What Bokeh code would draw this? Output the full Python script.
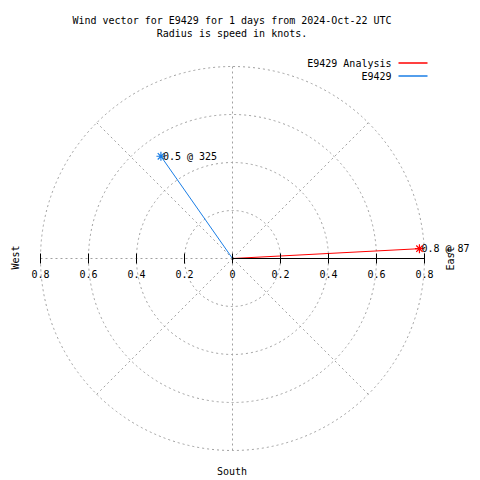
import numpy as np
from bokeh.plotting import figure
from bokeh.models import Range1d
from bokeh.embed import file_html
from bokeh.resources import INLINE
from bokeh.core.properties import value

# ---------------- data ----------------
title_lines = ["Wind vector for E9429 for 1 days from 2024-Oct-22 UTC",
               "Radius is speed in knots."]
series_names = ["E9429 Analysis", "E9429"]
series_colors = ["#ff0000", "#1a7ee6"]
speeds = [0.78, 0.52]          # knots
directions = [87, 325]         # degrees, clockwise from north
value_labels = ["0.8 @ 87", "0.5 @ 325"]
ring_radii = [0.2, 0.4, 0.6, 0.8]
spoke_angles = [0, 45, 90, 135, 180, 225, 270, 315]
tick_values = [-0.8, -0.6, -0.4, -0.2, 0.0, 0.2, 0.4, 0.6, 0.8]
tick_labels = ["0.8", "0.6", "0.4", "0.2", "0", "0.2", "0.4", "0.6", "0.8"]
compass_labels = ["West", "East", "South"]

# ---------------- geometry helpers ----------------
PX = 240.0             # pixels per knot
CX, CY = 232.0, 258.0  # centre in page pixels
W = H = 480


def X(px):
    return (px - CX) / PX


def Y(py):
    return (CY - py) / PX


FONT = value("DejaVu Sans Mono")
FS = "10px"
GRID = "#a0a0a0"

p = figure(width=W, height=H, output_backend="svg", toolbar_location=None,
           x_range=Range1d(X(0), X(W)), y_range=Range1d(Y(H), Y(0)),
           x_axis_type=None, y_axis_type=None, min_border=0, title=None)
p.outline_line_color = None
p.grid.visible = False
p.background_fill_color = "white"
p.border_fill_color = "white"

# rings
for r in ring_radii:
    p.circle(x=0, y=0, radius=r, fill_color=None, line_color=GRID,
             line_width=1, line_dash="2 3")

# spokes
ang = np.radians(spoke_angles)
rmax = max(ring_radii)
p.segment(x0=[0] * len(ang), y0=[0] * len(ang), x1=list(rmax * np.sin(ang)),
          y1=list(rmax * np.cos(ang)), line_color=GRID, line_width=1, line_dash="2 3")

# wind vectors
for s, d, c, lab in zip(speeds, directions, series_colors, value_labels):
    a = np.radians(d)
    ex, ey = s * np.sin(a), s * np.cos(a)
    p.line([0, ex], [0, ey], line_color=c, line_width=1)
    p.scatter([ex], [ey], marker="asterisk", size=9, line_color=c, line_width=1.2)
    p.text([ex + 2 / PX], [ey], text=[lab], text_font=FONT, text_font_size=FS,
           text_align="left", text_baseline="middle", text_color="black")

# axis (east half solid black)
p.line([0, rmax], [0, 0], line_color="black", line_width=1)
tl = 5 / PX
p.segment(x0=tick_values, y0=[-tl] * len(tick_values), x1=tick_values,
          y1=[tl] * len(tick_values), line_color="black", line_width=1)
p.text(tick_values, [Y(273)] * len(tick_values), text=tick_labels, text_font=FONT,
       text_font_size=FS, text_align="center", text_baseline="middle", text_color="black")

# compass labels
p.text([X(14.5), X(450)], [Y(257), Y(258)], text=compass_labels[:2], angle=np.pi / 2,
       text_font=FONT, text_font_size=FS, text_align="center", text_baseline="middle",
       text_color="black")
p.text([X(231.5)], [Y(471)], text=[compass_labels[2]], text_font=FONT, text_font_size=FS,
       text_align="center", text_baseline="middle", text_color="black")

# title
p.text([X(231.5), X(231.5)], [Y(20), Y(32.5)], text=title_lines, text_font=FONT,
       text_font_size=FS, text_align="center", text_baseline="middle", text_color="black")

# legend
leg_y = [Y(62.5), Y(75.5)]
p.text([X(391)] * 2, leg_y, text=series_names, text_font=FONT, text_font_size=FS,
       text_align="right", text_baseline="middle", text_color="black")
p.segment(x0=[X(398)] * 2, y0=leg_y, x1=[X(427)] * 2, y1=leg_y,
          line_color=series_colors, line_width=1.5)

open("out.html", "w").write(file_html(p, INLINE))
